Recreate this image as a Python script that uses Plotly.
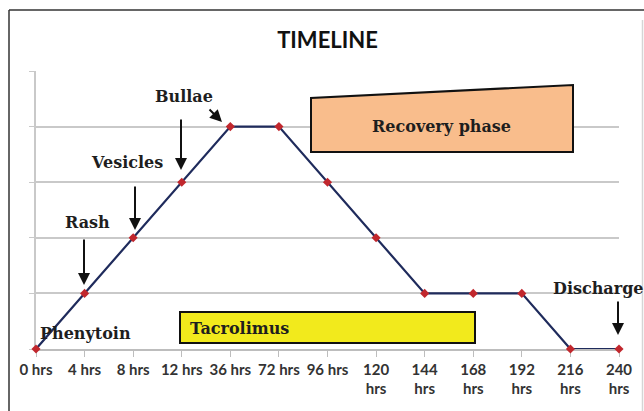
import plotly.graph_objects as go

# ---- data ----
time_labels = ["0 hrs", "4 hrs", "8 hrs", "12 hrs", "36 hrs", "72 hrs", "96 hrs",
               "120<br>hrs", "144<br>hrs", "168<br>hrs", "192<br>hrs", "216<br>hrs", "240<br>hrs"]
severity = [0, 1, 2, 3, 4, 4, 3, 2, 1, 1, 1, 0, 0]

# ---- geometry helpers (pixel -> paper) ----
W, H = 644, 411
L, R, T, B = 36, 619, 71, 349


def px(x):
    return (x - L) / (R - L)


def py(y):
    return (B - y) / (B - T)


fig = go.Figure()
fig.add_trace(go.Scatter(
    x=time_labels, y=severity, mode="lines+markers",
    line=dict(color="#1F2B5C", width=2.2),
    marker=dict(symbol="diamond", size=7, color="#C1272D"),
    cliponaxis=False, showlegend=False, hoverinfo="skip",
))

serif = "DejaVu Serif"
txt_col = "#1e1e1e"

shapes = [
    # Tacrolimus bar
    dict(type="rect", xref="paper", yref="paper", x0=px(180), x1=px(475), y0=py(343), y1=py(312),
         fillcolor="#F2EA1C", line=dict(color="#111111", width=2), layer="above"),
    # Recovery phase trapezoid
    dict(type="path", xref="paper", yref="paper",
         path=f"M {px(311)} {py(152)} L {px(311)} {py(98)} L {px(573)} {py(85)} L {px(573)} {py(152)} Z",
         fillcolor="#F9BD8C", line=dict(color="#111111", width=2), layer="above"),
    # frame
    dict(type="line", xref="paper", yref="paper", x0=px(9), x1=px(644), y0=py(10), y1=py(10),
         line=dict(color="#333333", width=1.5)),
    dict(type="line", xref="paper", yref="paper", x0=px(9), x1=px(9), y0=py(10), y1=py(411),
         line=dict(color="#333333", width=1.5)),
    dict(type="line", xref="paper", yref="paper", x0=px(642.5), x1=px(642.5), y0=py(20), y1=py(411),
         line=dict(color="#D5D5D5", width=1.5)),
]

annotations = []


def label(text, x, y, size=16):
    annotations.append(dict(text=f"<b>{text}</b>", xref="paper", yref="paper", x=px(x), y=py(y),
                            xanchor="center", yanchor="middle", showarrow=False,
                            font=dict(family=serif, size=size, color=txt_col)))


def arrow(tip, tail):
    annotations.append(dict(text="", xref="paper", yref="paper", x=px(tip[0]), y=py(tip[1]),
                            ax=tail[0] - tip[0], ay=tail[1] - tip[1], showarrow=True,
                            arrowhead=2, arrowsize=1.2, arrowwidth=2, arrowcolor="#111111",
                            standoff=0, startstandoff=0))


label("Bullae", 184, 96)
label("Vesicles", 127, 162)
label("Rash", 87, 222)
label("Phenytoin", 85, 333)
label("Discharge", 598, 288)
label("Recovery phase", 441, 126)
label("Tacrolimus", 239, 328)

arrow((222, 122), (208, 108))
arrow((181, 170), (181, 118))
arrow((135, 230), (135, 185))
arrow((84, 285), (84, 238))
arrow((618, 335), (618, 300))

fig.update_layout(
    width=W, height=H,
    margin=dict(l=L, r=W - R, t=T, b=H - B),
    paper_bgcolor="white", plot_bgcolor="white",
    title=dict(text="<b>TIMELINE</b>", x=0.5, xref="paper", xanchor="center",
               y=1 - 40 / H, yanchor="middle",
               font=dict(family="Lato", size=22, color="#111111")),
    shapes=shapes, annotations=annotations,
    xaxis=dict(type="category", range=[0, 12], showgrid=False, showline=True,
               linecolor="#BDBDBD", linewidth=1.5, ticks="outside", ticklen=6,
               tickcolor="#BDBDBD", tickfont=dict(family="Lato", size=15, color="#333333"),
               tickprefix="<b>", ticksuffix="</b>", fixedrange=True, layer="below traces"),
    yaxis=dict(range=[0, 5], dtick=1, showgrid=True, gridcolor="#C9C9C9", gridwidth=1.5,
               showticklabels=False, ticks="outside", ticklen=5, tickcolor="#C9C9C9",
               showline=True, linecolor="#C9C9C9", linewidth=1.5, zeroline=False,
               fixedrange=True, layer="below traces"),
)

fig.write_html("out.html", config={"displayModeBar": False},
               post_script="document.body.style.margin='0';document.body.style.overflow='hidden';")
